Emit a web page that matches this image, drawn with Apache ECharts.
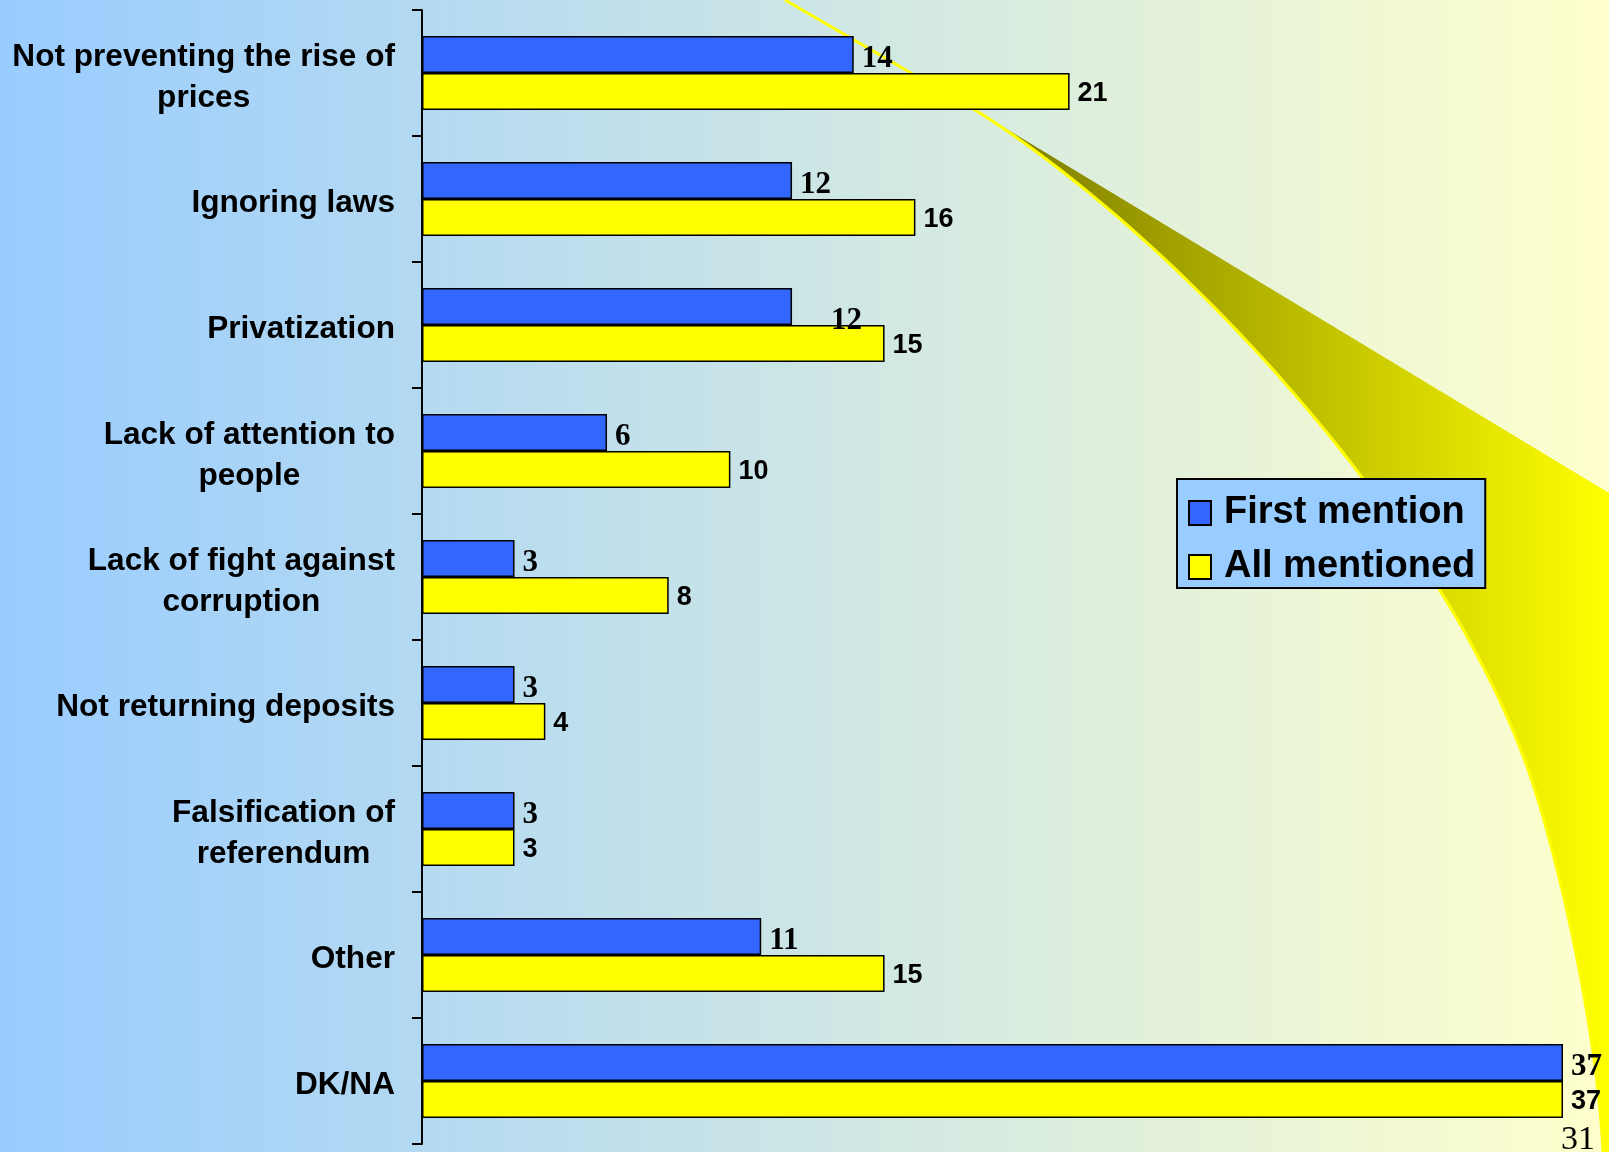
<!DOCTYPE html>
<html>
<head>
<meta charset="utf-8">
<script src="https://cdn.jsdelivr.net/npm/echarts@6/dist/echarts.min.js"></script>
<style>
html,body{margin:0;padding:0;background:#fff;}
#chart{width:1609px;height:1152px;}
</style>
</head>
<body>
<div id="chart"></div>
<script>
var categories = [
  "Not preventing the rise of\nprices",
  "Ignoring laws",
  "Privatization",
  "Lack of attention to\npeople",
  "Lack of fight against\ncorruption",
  "Not returning deposits",
  "Falsification of\nreferendum",
  "Other",
  "DK/NA"
];
var firstMention = [14, 12, 12, 6, 3, 3, 3, 11, 37];
var allMentioned = [21, 16, 15, 10, 8, 4, 3, 15, 37];
var seriesNames = ["First mention", "All mentioned"];
var pageNumber = "31";

var SANS = "'Liberation Sans', Arial, sans-serif";
var SERIF = "'Liberation Serif', 'Times New Roman', serif";

var chart = echarts.init(document.getElementById('chart'), null, {renderer: 'canvas'});

// decorative swoosh outline (cubic bezier segments), sampled into points
function cubic(p0, p1, p2, p3, n) {
  var pts = [];
  for (var i = 0; i <= n; i++) {
    var t = i / n, u = 1 - t;
    pts.push([
      u*u*u*p0[0] + 3*u*u*t*p1[0] + 3*u*t*t*p2[0] + t*t*t*p3[0],
      u*u*u*p0[1] + 3*u*u*t*p1[1] + 3*u*t*t*p2[1] + t*t*t*p3[1]
    ]);
  }
  return pts;
}
var curve = cubic([980,113],[1180,240],[1450,530],[1533,784], 60)
  .concat(cubic([1533,784],[1563,876],[1598,1040],[1603,1152], 40).slice(1));
var wedge = [[1609,493],[1609,1152]].concat(curve.slice().reverse());
var edgeLine = [[785,0]].concat(curve);

var firstData = firstMention.map(function (v, i) {
  if (i === 2) { return {value: v, label: {offset: [31, 14]}}; }
  return v;
});

var option = {
  animation: false,
  graphic: [
    {
      type: 'rect', z: -100, silent: true,
      shape: {x: 0, y: 0, width: 1609, height: 1152},
      style: {fill: new echarts.graphic.LinearGradient(0, 0, 1, 0, [
        {offset: 0, color: '#99CCFF'},
        {offset: 1, color: '#FFFFCC'}
      ])}
    },
    {
      type: 'polygon', z: -90, silent: true,
      shape: {points: wedge},
      style: {fill: new echarts.graphic.LinearGradient(980, 0, 1609, 0, [
        {offset: 0, color: '#777700'},
        {offset: 1, color: '#FFFF00'}
      ], true)}
    },
    {
      type: 'polyline', z: -80, silent: true,
      shape: {points: edgeLine},
      style: {stroke: '#FFFF00', lineWidth: 3, fill: null}
    },
    {
      type: 'text', z: 100, silent: true,
      left: 1561, top: 1123,
      style: {text: pageNumber, font: '34px ' + SERIF, fill: '#000'}
    }
  ],
  legend: {
    orient: 'vertical',
    left: 1177, top: 479,
    padding: [15, 10, 2, 11],
    itemGap: 16,
    itemWidth: 22, itemHeight: 24,
    backgroundColor: '#99CCFF',
    borderColor: '#000', borderWidth: 2,
    icon: 'rect',
    textStyle: {fontFamily: SANS, fontWeight: 'bold', fontSize: 38, color: '#000', padding: [0, 0, 0, 8]},
    data: seriesNames
  },
  grid: {left: 422, right: 46, top: 10, bottom: 8, containLabel: false},
  xAxis: {
    type: 'value', min: 0, max: 37, show: false
  },
  yAxis: {
    type: 'category', inverse: true, data: categories,
    axisLine: {show: true, lineStyle: {color: '#000', width: 2}},
    axisTick: {show: true, length: 10, lineStyle: {color: '#000', width: 2}},
    splitLine: {show: false},
    axisLabel: {
      margin: 27,
      align: 'right',
      color: '#000',
      padding: [9, 0, 0, 0],
      formatter: function (v) {
        return v.split('\n').map(function (s) { return '{c|' + s + '}'; }).join('\n');
      },
      rich: {
        c: {align: 'center', fontFamily: SANS, fontWeight: 'bold', fontSize: 31.6, lineHeight: 41, color: '#000'}
      }
    }
  },
  series: [
    {
      name: seriesNames[0], type: 'bar', data: firstData,
      barWidth: 37, barGap: '0%',
      itemStyle: {color: '#3366FF', borderColor: '#000', borderWidth: 1.5},
      label: {show: true, position: 'right', distance: 8, offset: [0, 4], color: '#000',
        fontFamily: SERIF, fontWeight: 'bold', fontSize: 31}
    },
    {
      name: seriesNames[1], type: 'bar', data: allMentioned,
      barWidth: 37, barGap: '0%',
      itemStyle: {color: '#FFFF00', borderColor: '#000', borderWidth: 1.5},
      label: {show: true, position: 'right', distance: 8, offset: [0, 2], color: '#000',
        fontFamily: SANS, fontWeight: 'bold', fontSize: 27}
    }
  ]
};
chart.setOption(option);
</script>
</body>
</html>
